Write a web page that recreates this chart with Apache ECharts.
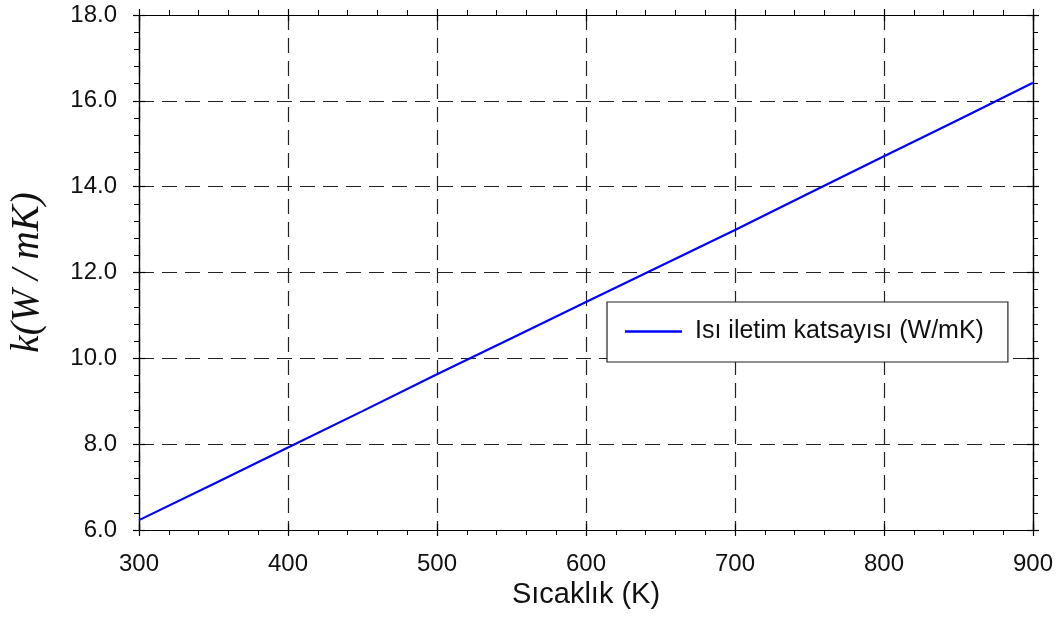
<!DOCTYPE html>
<html><head><meta charset="utf-8">
<script src="https://cdn.jsdelivr.net/npm/echarts@6/dist/echarts.min.js"></script>
<style>html,body{margin:0;padding:0;background:#fff}#c{width:1061px;height:619px}</style>
</head><body><div id="c"></div>
<script>
const temperatures = [300, 350, 400, 450, 500, 550, 600, 650, 700, 750, 800, 850, 900];
const conductivity = [6.23, 7.07, 7.92, 8.77, 9.63, 10.47, 11.31, 12.15, 12.99, 13.85, 14.71, 15.56, 16.42];
const seriesName = 'Isı iletim katsayısı (W/mK)';
const xTitle = 'Sıcaklık (K)';
const yTitle = 'k(W / mK)';

const gridRect = {left: 139, right: 28, top: 15, bottom: 89};
const X = {min: 300, max: 900, interval: 100};
const Y = {min: 6, max: 18, interval: 2};
const lineCol = '#000';
const labelFont = {fontFamily: 'Liberation Sans', fontSize: 24, color: '#111'};

function xAx(grid, pos, inside, labels) {
  return Object.assign({type: 'value', gridIndex: grid, position: pos}, X, {
    axisLine: {show: true, lineStyle: {color: lineCol, width: 1.2}},
    axisTick: {show: true, inside: inside, length: 6, lineStyle: {color: lineCol, width: 1.2}},
    minorTick: {show: !inside, splitNumber: 5, length: 5, lineStyle: {color: lineCol, width: 1}},
    axisLabel: labels ? Object.assign({show: true, margin: 22}, labelFont) : {show: false},
    splitLine: {show: labels, lineStyle: {color: '#222', type: [15, 8], width: 1.2}},
    name: labels ? xTitle : '',
    nameLocation: 'middle', nameGap: 47,
    nameTextStyle: {fontFamily: 'Liberation Sans', fontSize: 29, color: '#111'}
  });
}
function yAx(grid, pos, inside, labels) {
  return Object.assign({type: 'value', gridIndex: grid, position: pos}, Y, {
    axisLine: {show: true, lineStyle: {color: lineCol, width: 1.2}},
    axisTick: {show: true, inside: inside, length: 6, lineStyle: {color: lineCol, width: 1.2}},
    minorTick: {show: !inside, splitNumber: 5, length: 5, lineStyle: {color: lineCol, width: 1}},
    axisLabel: labels ? Object.assign({show: true, margin: 22, formatter: v => v.toFixed(1)}, labelFont) : {show: false},
    splitLine: {show: labels, lineStyle: {color: '#222', type: [15, 8], width: 1.2}},
    name: labels ? yTitle : '',
    nameLocation: 'middle', nameGap: 92, nameRotate: 90,
    nameTextStyle: {fontFamily: 'Liberation Serif', fontStyle: 'italic', fontSize: 39, color: '#111'}
  });
}

const chart = echarts.init(document.getElementById('c'), null, {renderer: 'canvas'});
chart.setOption({
  animation: false,
  backgroundColor: '#fff',
  grid: [Object.assign({}, gridRect), Object.assign({}, gridRect)],
  xAxis: [xAx(0, 'bottom', false, true), xAx(0, 'top', false, false), xAx(1, 'bottom', true, false), xAx(1, 'top', true, false)],
  yAxis: [yAx(0, 'left', false, true), yAx(0, 'right', false, false), yAx(1, 'left', true, false), yAx(1, 'right', true, false)],
  legend: {
    left: 607, top: 302,
    backgroundColor: '#fff',
    borderColor: '#222', borderWidth: 1.2, borderRadius: 0,
    padding: [17, 24, 18, 18],
    itemWidth: 57, itemHeight: 25,
    textStyle: {fontFamily: 'Liberation Sans', fontSize: 25, color: '#111', lineHeight: 25, padding: [0, 0, 0, 8]},
    data: [{name: seriesName, icon: 'path://M0,0L57,0L57,2.5L0,2.5Z', itemStyle: {color: '#0000ff'}}]
  },
  series: [{
    name: seriesName, type: 'line', xAxisIndex: 0, yAxisIndex: 0,
    data: temperatures.map((t, i) => [t, conductivity[i]]),
    symbol: 'none', smooth: false,
    lineStyle: {color: '#0000ff', width: 2.2},
    itemStyle: {color: '#0000ff'}
  }]
});
</script></body></html>
